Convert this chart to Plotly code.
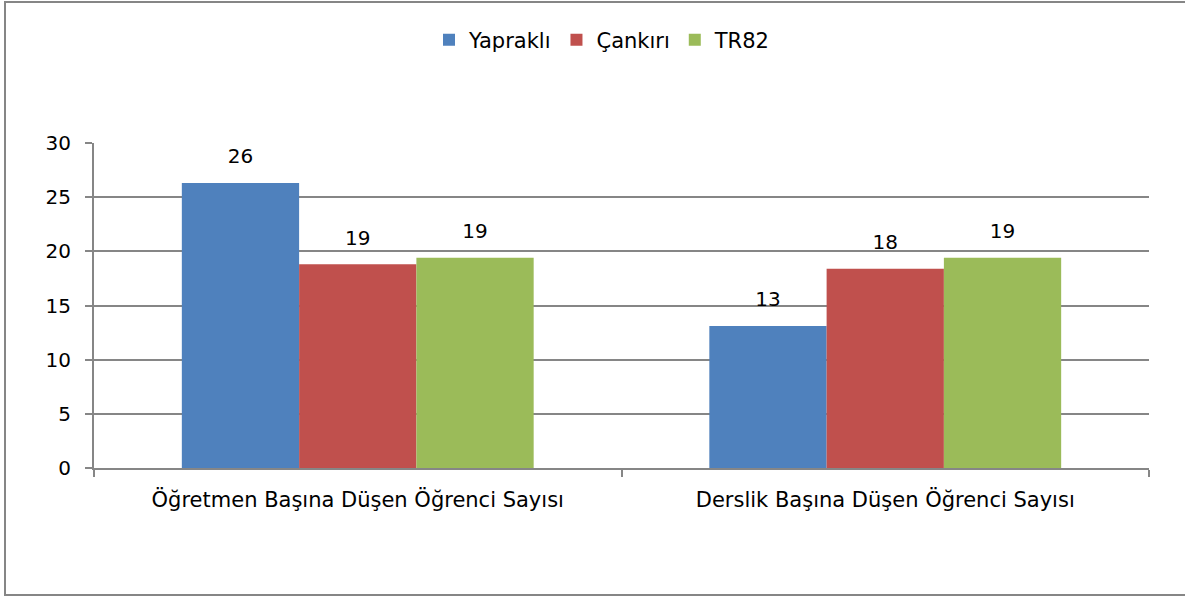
import plotly.graph_objects as go

categories = ["Öğretmen Başına Düşen Öğrenci Sayısı", "Derslik Başına Düşen Öğrenci Sayısı"]
series_names = ["Yapraklı", "Çankırı", "TR82"]
yaprakli = [26.3, 13.1]
cankiri = [18.8, 18.4]
tr82 = [19.4, 19.4]
colors = ["#4F81BD", "#C0504D", "#9BBB59"]
y_ticks = [0, 5, 10, 15, 20, 25, 30]

W, H = 1185, 597
ml, mr, mt, mb = 94, 36, 143, 129
FONT = "DejaVu Sans"

fig = go.Figure()
for name, vals, col in zip(series_names, [yaprakli, cankiri, tr82], colors):
    fig.add_trace(go.Bar(
        x=categories, y=vals, name=name, marker_color=col,
        marker_line_width=0, offsetgroup=name, alignmentgroup="a",
    ))
for name, vals in zip(series_names, [yaprakli, cankiri, tr82]):
    fig.add_trace(go.Scatter(
        x=categories, y=vals, mode="markers+text", showlegend=False,
        text=[f"{v:.0f}" for v in vals], textposition="top center",
        marker=dict(size=22, opacity=0), offsetgroup=name, alignmentgroup="a",
        textfont=dict(family=FONT, size=20, color="#000000"), hoverinfo="skip",
    ))

pw = W - ml - mr
ph = H - mt - mb
fig.add_shape(type="rect", xref="paper", yref="paper",
              x0=(5 - ml) / pw, x1=(1195 - ml) / pw,
              y0=(H - mb - 595) / ph, y1=(H - mb - 2) / ph,
              line=dict(color="#868686", width=2), fillcolor="rgba(0,0,0,0)", layer="below")

fig.update_layout(
    width=W, height=H,
    margin=dict(l=ml, r=mr, t=mt, b=mb),
    paper_bgcolor="white", plot_bgcolor="white",
    barmode="group", bargap=0.333, bargroupgap=0,
    scattermode="group", scattergap=0.333,
    font=dict(family=FONT, size=20, color="#000000"),
    legend=dict(orientation="h", x=(602 - ml) / pw, xanchor="center", y=(H - mb - 40) / ph, yanchor="middle",
                font=dict(family=FONT, size=21), itemwidth=30, traceorder="normal"),
    showlegend=True,
)
fig.update_xaxes(showline=True, linecolor="#868686", linewidth=2,
                 ticks="outside", tickson="boundaries", ticklen=7, tickcolor="#868686", tickwidth=2,
                 showgrid=False, tickfont=dict(family=FONT, size=21), ticklabelstandoff=12)
fig.update_yaxes(range=[0, 30], tickvals=y_ticks, showline=True, linecolor="#868686", linewidth=2,
                 ticks="outside", ticklen=7, tickcolor="#868686", tickwidth=2,
                 showgrid=True, gridcolor="#868686", gridwidth=2, zeroline=False,
                 tickfont=dict(family=FONT, size=20), ticklabelstandoff=10)

fig.write_html("out.html", config={"displayModeBar": False},
               post_script="document.body.style.margin='0';")
